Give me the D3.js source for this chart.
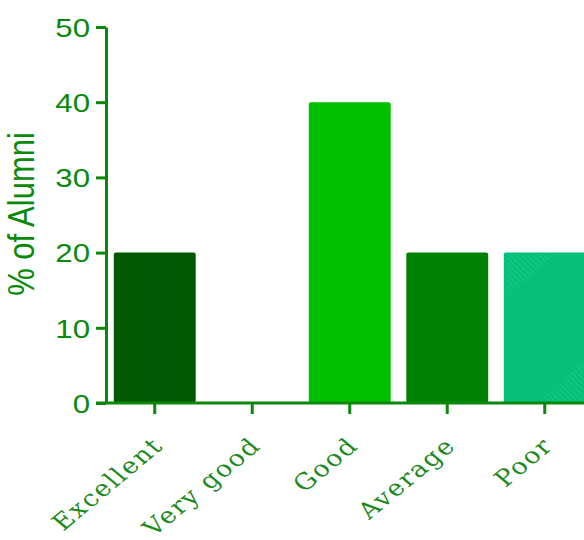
<!DOCTYPE html>
<html><head><meta charset="utf-8">
<script src="https://cdn.jsdelivr.net/npm/d3@7"></script>
<style>body{margin:0;background:#fff}svg{display:block}</style>
</head><body>
<svg id="chart" width="584" height="540"></svg>
<script>
const categories = ["Excellent","Very good","Good","Average","Poor"];
const values = [20, 0, 40, 20, 20];
const barColors = ["#005900","#006400","#00bf00","#008000","#05bf7a"];
const yTicks = [0,10,20,30,40,50];

const svg = d3.select("#chart");
const axisColor = "#0b870b";
const mLeft = 106, mBottom = 403, mTop = 27;
const stretch = 1.2;

const defs = svg.append("defs");
defs.append("pattern").attr("id","hatch").attr("patternUnits","userSpaceOnUse")
  .attr("width",4).attr("height",4).attr("patternTransform","rotate(-45)")
  .append("line").attr("x1",0).attr("y1",0).attr("x2",0).attr("y2",4)
  .attr("stroke","#3fd39a").attr("stroke-width",1.2);

const x = d3.scaleBand().domain(categories).range([mLeft, mLeft + 97.5*5]).paddingInner(0.16).paddingOuter(0.08);
const y = d3.scaleLinear().domain([0,50]).range([mBottom, mTop]);

// bars
svg.append("g").selectAll("rect").data(categories).join("rect")
  .attr("x", d => x(d))
  .attr("y", (d,i) => y(values[i]))
  .attr("width", x.bandwidth())
  .attr("height", (d,i) => y(0) - y(values[i]))
  .attr("rx", 2)
  .attr("fill", (d,i) => barColors[i]);

// faint hatching on the last bar's corners
{
  const d = categories[4], bx = x(d), by = y(values[4]), bw = x.bandwidth(), by0 = y(0);
  svg.append("path").attr("fill","url(#hatch)").attr("opacity",0.6)
    .attr("d", `M${bx+3},${by+3}L${bx+50},${by+3}L${bx+3},${by+45}Z`);
  svg.append("path").attr("fill","url(#hatch)").attr("opacity",0.6)
    .attr("d", `M${bx+bw-3},${by0-42}L${bx+bw-3},${by0-2}L${bx+bw-45},${by0-2}Z`);
}

// y axis
const ya = svg.append("g").attr("transform", `translate(${mLeft},0)`)
  .call(d3.axisLeft(y).tickValues(yTicks).tickSize(10).tickPadding(6).tickSizeOuter(0));
ya.select(".domain").attr("stroke", axisColor).attr("stroke-width", 3);
ya.selectAll(".tick line").attr("stroke", axisColor).attr("stroke-width", 3);
ya.selectAll(".tick text")
  .attr("fill", "#0a8a0a")
  .attr("font-family", "Liberation Sans, Arial, sans-serif")
  .attr("font-size", 26)
  .attr("dy", "0.36em")
  .attr("transform", function(){ const xx = +d3.select(this).attr("x"); return `translate(${xx},0) scale(${stretch},1) translate(${-xx},0)`; });

// x axis
const xa = svg.append("g").attr("transform", `translate(0,${mBottom})`)
  .call(d3.axisBottom(x).tickSize(11).tickSizeOuter(0).tickFormat(""));
xa.select(".domain").attr("stroke", axisColor).attr("stroke-width", 3)
  .attr("d", `M${mLeft-10},0H584`);
xa.selectAll(".tick line").attr("stroke", axisColor).attr("stroke-width", 3);

svg.append("g").selectAll("text").data(categories).join("text")
  .attr("transform", d => `translate(${x(d)+x.bandwidth()/2+10},${mBottom+44}) scale(${stretch},1) rotate(-45)`)
  .attr("text-anchor", "end")
  .attr("fill", "#1a8a1a")
  .attr("font-family", "DejaVu Serif, serif")
  .attr("font-size", 22.5)
  .attr("letter-spacing", 1.5)
  .text(d => d);

// y label
svg.append("text")
  .attr("transform", `translate(34,${(133+295)/2}) scale(${stretch},1) rotate(-90)`)
  .attr("text-anchor", "middle")
  .attr("fill", "#0a8a0a")
  .attr("font-family", "Liberation Sans, Arial, sans-serif")
  .attr("font-size", 31)
  .text("% of Alumni");
</script>
</body></html>
